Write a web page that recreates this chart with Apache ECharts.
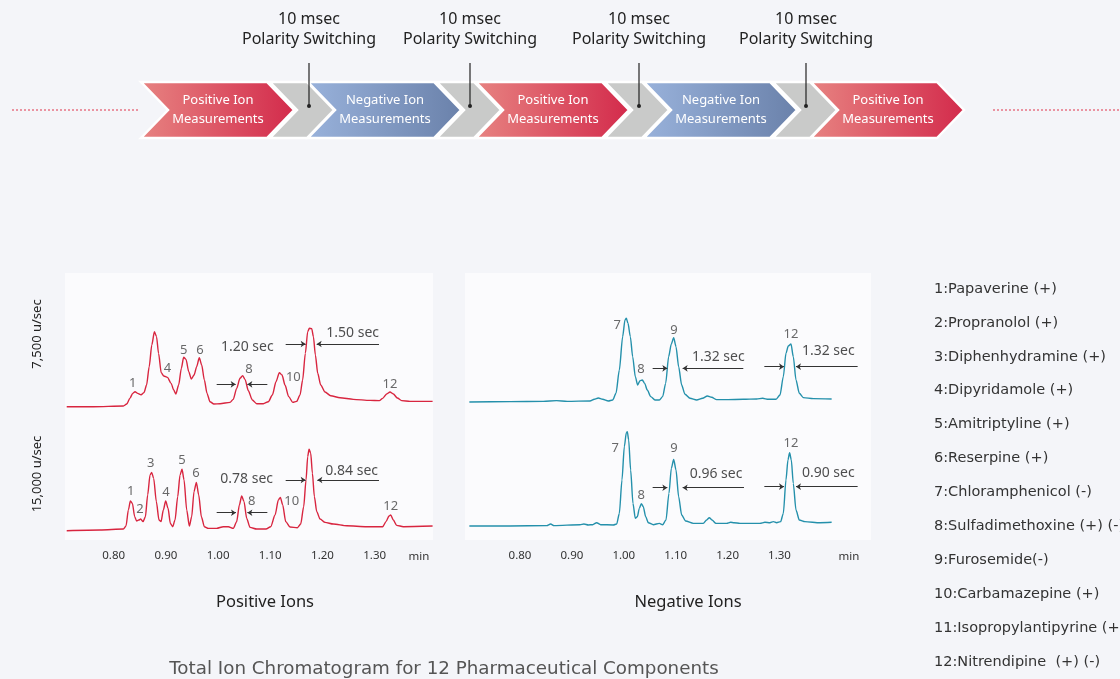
<!DOCTYPE html>
<html><head><meta charset="utf-8">
<script src="https://cdn.jsdelivr.net/npm/echarts/dist/echarts.min.js"></script>
<style>html,body{margin:0;padding:0;background:#f4f5f9;}#c{width:1120px;height:679px;}</style>
</head><body><div id="c"></div><script>
// ---------------- DATA ----------------
// [time (min), relative intensity (%)]
const posTop = [[0.710,0],[0.761,0],[0.8185,0.9],[0.825,3.4],[0.831,10.6],[0.8364,17],[0.8409,19.1],[0.846,17],[0.8524,15.3],[0.858,17.9],[0.863,27.7],[0.868,51],[0.873,78.7],[0.878,95.7],[0.882,89.4],[0.886,68],[0.891,43.4],[0.896,39.1],[0.903,37.4],[0.910,29.8],[0.915,21.3],[0.919,16.2],[0.9245,27.7],[0.9296,48.9],[0.934,63],[0.9386,60.4],[0.9437,44.7],[0.9488,35.3],[0.954,40.4],[0.959,51],[0.964,62.6],[0.9686,53.2],[0.9737,34],[0.9788,17],[0.9845,6.4],[0.992,3.4],[1.0037,3.8],[1.0229,5.5],[1.029,9.4],[1.0356,23.4],[1.042,36.2],[1.047,39.6],[1.0516,34.9],[1.058,20.4],[1.0656,8.5],[1.074,3.8],[1.0867,3.8],[1.0963,6.4],[1.104,14.9],[1.111,31.9],[1.1174,43.4],[1.1225,40.4],[1.1282,27.7],[1.1353,12.8],[1.143,5.5],[1.1506,6.8],[1.157,14.9],[1.162,34],[1.1672,68.1],[1.1717,95.7],[1.1749,100],[1.1794,99.6],[1.1826,89.4],[1.1864,66],[1.1909,42.6],[1.1966,27.7],[1.2049,18.7],[1.2157,14],[1.2336,11.5],[1.2591,9.4],[1.2911,8.1],[1.309,7.7],[1.3153,10.6],[1.323,16.2],[1.3294,18.7],[1.3358,16.2],[1.3434,11.1],[1.3517,7.7],[1.3677,6.8],[1.411,6.8]];
const posBottom = [[0.710,0],[0.774,0.8],[0.8185,2],[0.8236,5.7],[0.8281,25.4],[0.832,36.5],[0.8358,33.6],[0.8402,17.2],[0.844,11.9],[0.8479,13.1],[0.8517,14.3],[0.8562,11.1],[0.8607,17.2],[0.8651,43.9],[0.8696,68.4],[0.8728,71.7],[0.8766,64.3],[0.8817,35.7],[0.8868,13.1],[0.8907,11.1],[0.8951,25.4],[0.8996,36.5],[0.9041,27.5],[0.9086,9],[0.913,4.9],[0.9175,13.1],[0.9226,41.8],[0.9271,68.4],[0.9309,75.4],[0.9348,62.3],[0.9399,25.4],[0.945,5.7],[0.9494,17.2],[0.9539,48],[0.9584,59.4],[0.9629,43.9],[0.968,17.2],[0.9737,4.9],[0.9814,2.9],[0.9973,2.9],[1.01,4.9],[1.0197,4.9],[1.0292,2.9],[1.0356,11.1],[1.0408,31.6],[1.0452,42.6],[1.0497,35.7],[1.0548,15.2],[1.0612,4.1],[1.074,2],[1.0918,2],[1.1008,4.9],[1.1092,19.3],[1.1155,37.7],[1.1193,41],[1.1238,31.6],[1.1296,11.1],[1.1379,4.5],[1.1519,3.7],[1.1583,8.2],[1.164,29.5],[1.1685,62.3],[1.1717,91],[1.1743,100],[1.1775,95.1],[1.1807,70.5],[1.1845,41.8],[1.189,23.4],[1.1954,14.3],[1.2049,10.2],[1.2209,8.2],[1.2464,6.1],[1.2847,4.9],[1.3153,4.9],[1.3217,11.1],[1.3275,18],[1.3307,19.3],[1.3358,13.1],[1.3421,6.6],[1.3549,4.9],[1.411,5.7]];
const negTop = [[0.7024,0],[0.7807,0.4],[0.845,0.8],[0.8703,1.6],[0.8908,0.8],[0.9349,1.2],[0.9432,3.2],[0.9509,4.8],[0.9593,3.2],[0.9702,1.2],[0.9785,2.4],[0.985,10.4],[0.9914,38.2],[0.9978,78.1],[1.0023,98],[1.0049,100],[1.0081,94],[1.0126,78.1],[1.0171,54.2],[1.0222,30.3],[1.0267,20.3],[1.0312,25.5],[1.0357,26.3],[1.0402,22.3],[1.0453,14.3],[1.0518,6.4],[1.0601,2.4],[1.0685,2.4],[1.0749,6.4],[1.0807,22.3],[1.0864,54.2],[1.0916,69.3],[1.0961,76.9],[1.1006,66.1],[1.1057,42.2],[1.1115,20.3],[1.1179,9.2],[1.1276,4.4],[1.1404,2.4],[1.1519,4.4],[1.161,7.2],[1.1693,5.6],[1.1789,2.8],[1.1982,2.8],[1.2303,3.2],[1.256,3.6],[1.2676,4.4],[1.2785,3.2],[1.2933,3.2],[1.301,8.4],[1.3074,30.3],[1.3125,58.2],[1.317,66.9],[1.3222,69.3],[1.3266,54.2],[1.3318,26.3],[1.3382,10.4],[1.3459,5.2],[1.3652,4],[1.4005,3.6]];
const negBottom = [[0.7024,0],[0.7807,0],[0.8514,0.4],[0.8591,2.1],[0.8655,0.4],[0.9156,1.4],[0.9233,2.1],[0.9317,1.1],[0.94,1.4],[0.9477,3.5],[0.9554,1.4],[0.9798,1.1],[0.9863,2.1],[0.9914,13.4],[0.9965,48.8],[1.001,84.1],[1.0049,98.9],[1.0068,100],[1.0094,91.2],[1.0132,59.4],[1.0177,24],[1.0222,8.1],[1.0261,9.9],[1.0299,18.7],[1.0338,23.7],[1.0376,20.5],[1.0421,9.9],[1.0473,3.5],[1.0569,1.4],[1.0685,2.8],[1.0749,1.4],[1.0813,6.4],[1.087,34.6],[1.0916,61.1],[1.0961,70.7],[1.1006,59.4],[1.1057,31.1],[1.1115,11.7],[1.1192,5.3],[1.134,2.8],[1.1532,2.8],[1.1597,6.4],[1.1648,8.8],[1.1699,6.4],[1.1776,2.8],[1.1982,2.8],[1.2059,3.9],[1.2123,3.5],[1.2239,2.8],[1.2624,2.8],[1.272,3.9],[1.2817,3.5],[1.2881,4.6],[1.2945,3.5],[1.3022,4.6],[1.3074,13.4],[1.3125,48.8],[1.3163,70],[1.3195,77.7],[1.3228,70],[1.3266,45.2],[1.3318,17],[1.3382,6.4],[1.3491,4.6],[1.378,3.5],[1.4005,3.9]];

// peak labels: [text, time, intensity]
const posTopPeaks = [['1',0.8364,29.8],['3',0.8792,116],['4',0.9028,48.9],['5',0.934,72.3],['6',0.9653,72.3],['8',1.0593,47.7],['10',1.1442,37.4],['11',1.1729,117],['12',1.3294,28.5]];
const posBottomPeaks = [['1',0.8326,48.8],['2',0.8504,26.6],['3',0.8709,82.8],['4',0.9003,47.1],['5',0.9309,86.1],['6',0.9577,70.5],['8',1.0644,35.7],['10',1.141,35.7],['11',1.1742,108.2],['12',1.3307,30.3]];
const negTopPeaks = [['7',0.9875,92],['8',1.0331,39.4],['9',1.0967,86.1],['12',1.3222,80.9]];
const negBottomPeaks = [['7',0.9837,82.3],['8',1.0338,32.2],['9',1.0967,82.3],['12',1.3222,87.6]];

// peak width notes: [text, time, intensity]
const posTopWidths = [['1.20 sec',1.056,75.7],['1.50 sec',1.2578,93.6]];
const posBottomWidths = [['0.78 sec',1.0548,63.1],['0.84 sec',1.2559,73.8]];
const negTopWidths = [['1.32 sec',1.1821,54.2],['1.32 sec',1.3941,61]];
const negBottomWidths = [['0.96 sec',1.1777,55.1],['0.90 sec',1.3941,56.5]];

// half-width arrows: [from time, to time (arrow head), intensity]
const posTopArrows = [[0.9973,1.0337,28.5],[1.0944,1.0561,28.5],[1.1295,1.1678,80],[1.3083,1.1889,80]];
const posBottomArrows = [[0.9973,1.0343,22.1],[1.0944,1.0561,22.1],[1.1295,1.1678,62.3],[1.3083,1.1902,62.3]];
const negTopArrows = [[1.0556,1.0839,40.2],[1.2303,1.1134,40.2],[1.2708,1.3087,42.2],[1.4506,1.3318,42.2]];
const negBottomArrows = [[1.0556,1.0839,40.6],[1.2316,1.1134,40.6],[1.2708,1.3087,41.7],[1.4506,1.3318,41.7]];

const tickLabels = ['0.80','0.90','1.00','1.10','1.20','1.30'];
const scanRates = ['7,500 u/sec','15,000 u/sec'];
const panelTitles = ['Positive Ions','Negative Ions'];
const mainTitle = 'Total Ion Chromatogram for 12 Pharmaceutical Components';
const compounds = ['1:Papaverine (+)','2:Propranolol (+)','3:Diphenhydramine (+)','4:Dipyridamole (+)','5:Amitriptyline (+)','6:Reserpine (+)','7:Chloramphenicol (-)','8:Sulfadimethoxine (+) (-)','9:Furosemide(-)','10:Carbamazepine (+)','11:Isopropylantipyrine (+)','12:Nitrendipine  (+) (-)'];
const stages = ['Positive Ion\nMeasurements','Negative Ion\nMeasurements','Positive Ion\nMeasurements','Negative Ion\nMeasurements','Positive Ion\nMeasurements'];
const switchNote = '10 msec\nPolarity Switching';

// ---------------- CHART ----------------
const chart = echarts.init(document.getElementById('c'), null, {renderer:'canvas'});
const RED = '#d8253f', TEAL = '#2490ab';
const F = '"Noto Sans", "Open Sans", sans-serif';

const grids = [
  {left:61.5, top:328.3, width:375.8, height:78.4},
  {left:61.5, top:449.3, width:375.8, height:81.4},
  {left:468.1, top:318.3, width:404.8, height:83.7},
  {left:468.1, top:431.7, width:404.8, height:94.3}
].map(g => Object.assign({show:false, containLabel:false, outerBoundsMode:'none'}, g));

const xMax = [1.42, 1.42, 1.48, 1.48];
const labelMargin = [0, 19, 0, 24];
const xAxes = grids.map((g,i) => ({
  type:'value', gridIndex:i, min:0.70, max:xMax[i], interval:0.1,
  axisLine:{show:false}, axisTick:{show:false}, splitLine:{show:false},
  axisLabel:{show: i===1 || i===3, margin:labelMargin[i], color:'#333', fontSize:11.5, fontFamily:F,
    showMinLabel:true, showMaxLabel:true,
    formatter: v => { const s = (Math.round(v*100)/100).toFixed(2); return tickLabels.includes(s) ? s : ''; }}
}));
const yAxes = grids.map((g,i) => ({type:'value', gridIndex:i, min:0, max:100, show:false}));

const traces = [posTop, posBottom, negTop, negBottom];
const peaks = [posTopPeaks, posBottomPeaks, negTopPeaks, negBottomPeaks];
const widths = [posTopWidths, posBottomWidths, negTopWidths, negBottomWidths];
const arrows = [posTopArrows, posBottomArrows, negTopArrows, negBottomArrows];
const colors = [RED, RED, TEAL, TEAL];

const series = [];
traces.forEach((d,i) => {
  series.push({type:'line', xAxisIndex:i, yAxisIndex:i, data:d, symbol:'none', showSymbol:false,
    smooth:0.25, smoothMonotone:'x', clip:false, silent:true, animation:false, z:3,
    lineStyle:{color:colors[i], width:1.4}});
  series.push({type:'scatter', xAxisIndex:i, yAxisIndex:i, silent:true, animation:false, z:5,
    symbolSize:1, itemStyle:{color:'rgba(0,0,0,0)'},
    data: peaks[i].map(p => ({value:[p[1],p[2]], label:{formatter:p[0]}})),
    label:{show:true, position:'inside', color:'#444', fontSize:13, fontFamily:F}});
  series.push({type:'scatter', xAxisIndex:i, yAxisIndex:i, silent:true, animation:false, z:5,
    symbolSize:1, itemStyle:{color:'rgba(0,0,0,0)'},
    data: widths[i].map(p => ({value:[p[1],p[2]], label:{formatter:p[0]}})),
    label:{show:true, position:'inside', color:'#222', fontSize:14, fontFamily:F}});
  series.push({type:'lines', coordinateSystem:'cartesian2d', xAxisIndex:i, yAxisIndex:i, silent:true,
    animation:false, clip:false, z:4, symbol:['none','arrow'], symbolSize:5,
    lineStyle:{color:'#333', width:1, opacity:1, curveness:0},
    data: arrows[i].map(a => ({coords:[[a[0],a[2]],[a[1],a[2]]]}))});
});

// ---------- graphic decorations ----------
const gfx = [];
gfx.push({type:'rect', z:0, shape:{x:65, y:273, width:368, height:267}, style:{fill:'#fbfbfd'}});
gfx.push({type:'rect', z:0, shape:{x:465, y:273, width:406, height:267}, style:{fill:'#fbfbfd'}});
gfx.push({type:'line', z:1, shape:{x1:12, y1:110, x2:138, y2:110}, style:{stroke:'#e0344c', lineWidth:1, lineDash:[2,2]}});
gfx.push({type:'line', z:1, shape:{x1:993, y1:110, x2:1120, y2:110}, style:{stroke:'#e0344c', lineDash:[2,2], lineWidth:1}});
const x0s = [141, 308, 476, 644, 811];
const T = 82, B = 138, M = 110;
const grads = {
  pos: () => new echarts.graphic.LinearGradient(0,0,1,0,[{offset:0,color:'#e78381'},{offset:1,color:'#d32a4b'}]),
  neg: () => new echarts.graphic.LinearGradient(0,0,1,0,[{offset:0,color:'#99b2db'},{offset:1,color:'#6a81aa'}])
};
stages.forEach((s,i) => {
  const x0 = x0s[i];
  gfx.push({type:'polygon', z:2, shape:{points:[[x0,T],[x0+126,T],[x0+153,M],[x0+126,B],[x0,B],[x0+27,M]]},
    style:{fill: s.startsWith('Positive') ? grads.pos() : grads.neg(), stroke:'#ffffff', lineWidth:2.5}});
  gfx.push({type:'text', z:3, x:x0+77, y:M, style:{text:s, fill:'#ffffff', font:'13px '+F, fontSize:13, fontFamily:F,
    align:'center', verticalAlign:'middle', textAlign:'center', textVerticalAlign:'middle', lineHeight:19}});
  if (i < stages.length-1) {
    gfx.push({type:'polygon', z:2, shape:{points:[[x0+129,T],[x0+166,T],[x0+193,M],[x0+166,B],[x0+129,B],[x0+156,M]]},
      style:{fill:'#c9cac9', stroke:'#ffffff', lineWidth:2.5}});
  }
});
const switchX = [309, 470, 639, 806];
switchX.forEach(x => {
  gfx.push({type:'line', z:4, shape:{x1:x, y1:63, x2:x, y2:106}, style:{stroke:'#222', lineWidth:1.2}});
  gfx.push({type:'circle', z:4, shape:{cx:x, cy:106, r:2}, style:{fill:'#222'}});
  gfx.push({type:'text', z:4, x:x, y:29, style:{text:switchNote, fill:'#222', font:'16px '+F, fontSize:16, fontFamily:F,
    align:'center', verticalAlign:'middle', textAlign:'center', textVerticalAlign:'middle', lineHeight:20}});
});
[[334, scanRates[0]],[474, scanRates[1]]].forEach(([y,t]) => {
  gfx.push({type:'text', z:4, x:37, y:y, rotation:Math.PI/2, style:{text:t, fill:'#222', font:'13px '+F, fontSize:13, fontFamily:F,
    align:'center', verticalAlign:'middle', textAlign:'center', textVerticalAlign:'middle'}});
});
[419, 849].forEach(x => gfx.push({type:'text', z:4, x:x, y:557, style:{text:'min', fill:'#333', font:'11.5px '+F, fontSize:11.5, fontFamily:F,
  align:'center', verticalAlign:'middle', textAlign:'center', textVerticalAlign:'middle'}}));
[[265, panelTitles[0]],[688, panelTitles[1]]].forEach(([x,t]) => gfx.push({type:'text', z:4, x:x, y:602,
  style:{text:t, fill:'#222', font:'16.5px '+F, fontSize:16.5, fontFamily:F, align:'center', verticalAlign:'middle', textAlign:'center', textVerticalAlign:'middle'}}));
gfx.push({type:'text', z:4, x:444, y:669, style:{text:mainTitle, fill:'#555', font:'18.3px "DejaVu Sans"', fontSize:18.3, fontFamily:'DejaVu Sans',
  align:'center', verticalAlign:'middle', textAlign:'center', textVerticalAlign:'middle'}});
compounds.forEach((c,i) => gfx.push({type:'text', z:4, x:934, y:289 + i*33.9, style:{text:c, fill:'#333', font:'14.5px "DejaVu Sans"', fontSize:14.5, fontFamily:'DejaVu Sans',
  align:'left', verticalAlign:'middle', textAlign:'left', textVerticalAlign:'middle'}}));

chart.setOption({
  backgroundColor:'#f4f5f9',
  animation:false,
  grid:grids, xAxis:xAxes, yAxis:yAxes, series:series, graphic:{elements:gfx}
});
</script></body></html>
